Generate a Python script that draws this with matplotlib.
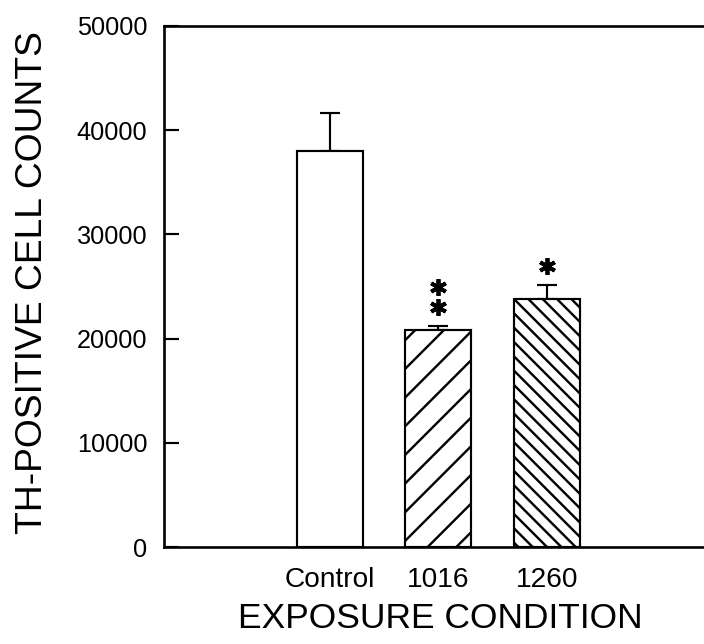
import matplotlib
matplotlib.use("Agg")
import matplotlib.pyplot as plt

conditions = ["Control", "1016", "1260"]
cell_counts = [38000, 20800, 23800]
count_errors = [3600, 400, 1350]
hatches = ["", "//", "\\\\\\\\"]
star_counts = [0, 2, 1]
y_ticks = [0, 10000, 20000, 30000, 40000, 50000]

DPI = 172
plt.rcParams["font.family"] = ["Liberation Sans", "DejaVu Sans"]
plt.rcParams["hatch.linewidth"] = 1.0

fig = plt.figure(figsize=(704 / DPI, 644 / DPI), dpi=DPI)
ax = fig.add_axes([0.233, 0.1506, 0.767, 0.8094])

x = list(range(len(conditions)))
ax.errorbar(x, cell_counts, yerr=[[0] * len(x), count_errors], fmt="none",
            ecolor="black", elinewidth=0.9, capsize=4.2, capthick=0.9, zorder=1)
ax.bar(x, cell_counts, width=0.61, color="white", edgecolor="black",
       linewidth=0.9, hatch=hatches, zorder=2)

# significance stars above the error caps
for xi, val, err, n in zip(x, cell_counts, count_errors, star_counts):
    for k in range(n):
        ax.plot(xi, val + err + 1800 + k * 1950, marker=(6, 2, 0), color="black",
                markersize=7, markeredgewidth=1.6, zorder=3)

ax.set_xlim(-1.53, 3.45)
ax.set_ylim(0, 50000)
ax.set_yticks(y_ticks)
ax.set_yticklabels([str(t) for t in y_ticks], fontsize=10.6)
ax.set_xticks(x)
ax.set_xticklabels(conditions, fontsize=11.8)
ax.tick_params(axis="y", direction="in", length=6.3, width=0.9, pad=7)
ax.tick_params(axis="x", length=0, pad=8.5)

ax.spines["right"].set_visible(False)
for side in ["left", "bottom", "top"]:
    ax.spines[side].set_linewidth(1.1)

fig.text(440 / 704, 1 - 628 / 644, "EXPOSURE CONDITION", fontsize=14.8,
         ha="center", va="baseline")
fig.text(42 / 704, 1 - 283 / 644, "TH-POSITIVE CELL COUNTS", fontsize=15.6,
         ha="center", va="baseline", rotation=90, rotation_mode="anchor")

fig.savefig("out.png", dpi=DPI)
